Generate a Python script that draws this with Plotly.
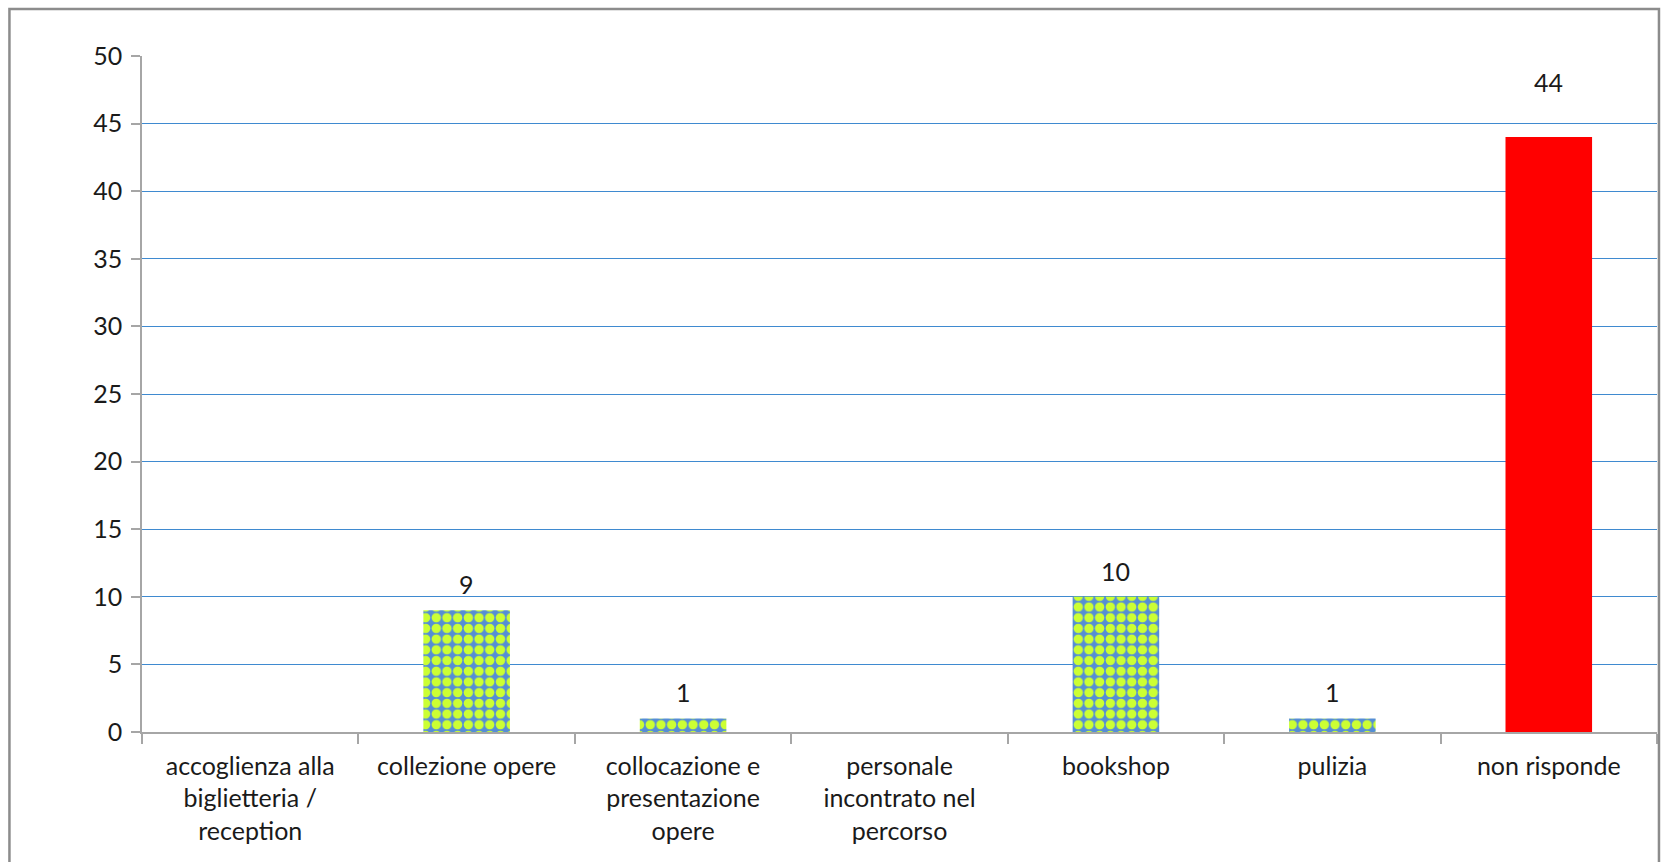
import plotly.graph_objects as go

# Categories and counts
categories = [
    "accoglienza alla<br>biglietteria /<br>reception",
    "collezione opere",
    "collocazione e<br>presentazione<br>opere",
    "personale<br>incontrato nel<br>percorso",
    "bookshop",
    "pulizia",
    "non risponde",
]
counts = [0, 9, 1, 0, 10, 1, 44]
y_ticks = [0, 5, 10, 15, 20, 25, 30, 35, 40, 45, 50]

FONT = "Lato"
TEXT = "#1a1a1a"
AXIS_GRAY = "#a6a6a6"
GRID_BLUE = "#3f8ad0"
BLUE = "#558ed5"
LIME = "#ccff33"
RED = "#ff0000"

# The last category is shown as a solid red bar, the others with a dotted fill
is_missing = [c == "non risponde" for c in categories]

fig = go.Figure()
fig.add_trace(go.Bar(
    x=[c for c, m in zip(categories, is_missing) if not m],
    y=[v for v, m in zip(counts, is_missing) if not m],
    marker=dict(
        color=BLUE,
        line=dict(width=0),
        pattern=dict(shape=".", fgcolor=LIME, bgcolor=BLUE,
                     size=10.7, solidity=0.6, fillmode="replace"),
    ),
    hoverinfo="x+y",
))
fig.add_trace(go.Bar(
    x=[c for c, m in zip(categories, is_missing) if m],
    y=[v for v, m in zip(counts, is_missing) if m],
    marker=dict(color=RED, line=dict(width=0)),
    hoverinfo="x+y",
))

# Value labels above non-empty bars
annotations = []
for c, v in zip(categories, counts):
    if v <= 0:
        continue
    annotations.append(dict(
        x=c, y=v, xref="x", yref="y",
        text=str(v), showarrow=False,
        yanchor="bottom", yshift=38 if v > 40 else 9,
        font=dict(family=FONT, size=25, color=TEXT),
    ))

fig.update_layout(
    width=1663, height=862,
    margin=dict(l=142, r=6, t=56, b=130),
    paper_bgcolor="white", plot_bgcolor="white",
    showlegend=False,
    barmode="overlay",
    bargap=0.6,
    annotations=annotations,
    font=dict(family=FONT, size=25, color=TEXT),
    shapes=[dict(
        type="rect", xref="paper", yref="paper",
        x0=-0.0875, x1=1.0013, y0=-0.3, y1=1.0695,
        line=dict(color="#8c8c8c", width=2.5),
        fillcolor="rgba(0,0,0,0)", layer="above",
    )],
)

fig.update_xaxes(
    type="category",
    categoryorder="array", categoryarray=categories,
    range=[-0.5, len(categories) - 0.5],
    showline=True, linecolor=AXIS_GRAY, linewidth=1.5,
    ticks="outside", tickson="boundaries", ticklen=10,
    tickcolor=AXIS_GRAY, tickwidth=1.5,
    tickfont=dict(family=FONT, size=25, color=TEXT),
    ticklabelstandoff=11,
    showgrid=False, zeroline=False,
)
fig.update_yaxes(
    range=[0, 50],
    tickvals=y_ticks,
    showline=True, linecolor=AXIS_GRAY, linewidth=1.5,
    ticks="outside", ticklen=9, tickcolor=AXIS_GRAY, tickwidth=1.5,
    tickfont=dict(family=FONT, size=25, color=TEXT),
    ticklabelstandoff=4,
    showgrid=True, gridcolor=GRID_BLUE, gridwidth=1.3,
    zeroline=False,
)

fig.write_html("out.html")
